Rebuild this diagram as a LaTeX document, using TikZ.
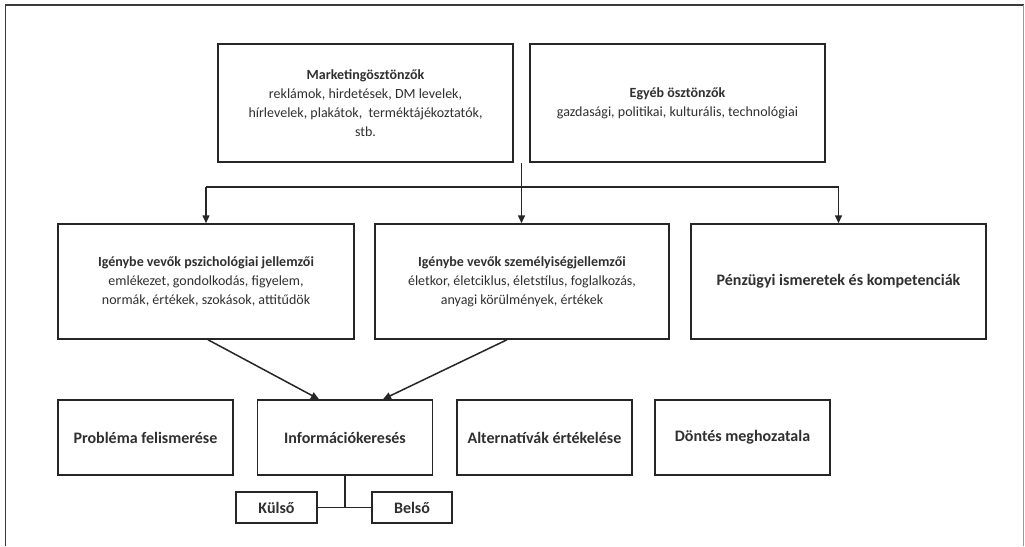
\documentclass[tikz,border=0pt]{standalone}
\usepackage{fontspec}
\setmainfont{Carlito}
\usetikzlibrary{arrows.meta,calc}
\definecolor{linec}{HTML}{262626}
\definecolor{txt}{HTML}{303030}
\definecolor{framec}{HTML}{3A3A3A}
\definecolor{framer}{HTML}{999999}
\begin{document}
\begin{tikzpicture}[x=1pt,y=-1pt,
  box/.style={draw=linec, line width=1.5pt, fill=white, align=center, text=txt,
    inner sep=0pt, font=\fontsize{14}{19}\selectfont},
  topbox/.style={box, minimum width=295pt, minimum height=118pt},
  midbox/.style={box, minimum width=295pt, minimum height=115pt},
  stepbox/.style={box, minimum width=175pt, minimum height=75pt, font=\fontsize{16}{19}\selectfont\bfseries},
  subbox/.style={box, minimum width=80pt, minimum height=31pt, font=\fontsize{16}{19}\selectfont\bfseries},
  con/.style={draw=linec, line width=1.5pt},
  arr/.style={con, -{Triangle[length=8pt,width=7pt]}}]
\useasboundingbox (0,0) rectangle (1025,546);
\fill[white] (0,0) rectangle (1025,546);
% outer frame
\draw[line width=1.5pt, draw=framec] (5.5,546) -- (5.5,5) -- (1023.5,5);
\draw[line width=1.5pt, draw=framer] (1023.5,5) -- (1023.5,546);

% top row
\node[topbox] (mk) at (365.5,103) {\textbf{Marketingösztönzők}\\reklámok, hirdetések, DM levelek,\\hírlevelek, plakátok,\ \ terméktájékoztatók,\\stb.};
\node[topbox] (eg) at (677.5,103) {\textbf{Egyéb ösztönzők}\\gazdasági, politikai, kulturális, technológiai};

% middle row
\node[midbox, minimum width=296pt] (p1) at (206,281.5) {\textbf{Igénybe vevők pszichológiai jellemzői}\\emlékezet, gondolkodás, figyelem,\\normák, értékek, szokások, attitűdök};
\node[midbox, minimum width=294pt] (p2) at (522,281.5) {\textbf{Igénybe vevők személyiségjellemzői}\\életkor, életciklus, életstílus, foglalkozás,\\anyagi körülmények, értékek};
\node[midbox, font=\fontsize{16}{19}\selectfont\bfseries] (p3) at (838.5,281.5) {Pénzügyi ismeretek és kompetenciák};

% bottom row
\node[stepbox] (r1) at (145.5,437.5) {Probléma felismerése};
\node[stepbox] (r2) at (345,437.5) {Információkeresés};
\node[stepbox] (r3) at (544.5,437.5) {Alternatívák értékelése};
\node[stepbox] (r4) at (742.5,437.5) {Döntés meghozatala};

\node[subbox, minimum width=81pt] (ku) at (276.5,507.5) {Külső};
\node[subbox] (be) at (412,507.5) {Belső};

% connectors from the top row
\coordinate (j) at (521.5,187);
\draw[con] ($(mk.south east)!0.5!(eg.south west)$) -- (j);
\draw[con] (p1.north |- j) -- (p3.north |- j);
\draw[arr] (p1.north |- j) -- (p1.north);
\draw[arr] (j) -- (j |- p2.north);
\draw[arr] (p3.north |- j) -- (p3.north);

% diagonals into Információkeresés
\draw[arr] ([xshift=2pt]p1.south) -- ([xshift=-26pt]r2.north);
\draw[arr] ([xshift=-15pt]p2.south) -- ([xshift=38pt]r2.north);

% Külső / Belső
\draw[con] (r2.south) -- (r2.south |- ku.east);
\draw[con] (ku.east) -- (be.west);
\end{tikzpicture}
\end{document}
